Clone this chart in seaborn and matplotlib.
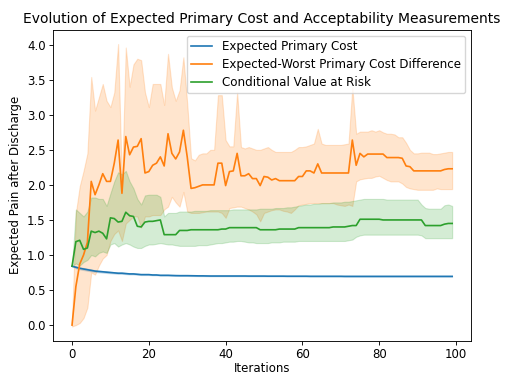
import numpy as np
import pandas as pd
import matplotlib
matplotlib.use("Agg")
import matplotlib.pyplot as plt
import seaborn as sns

iterations = list(range(100))

primary_cost = [
    0.840, 0.825, 0.810, 0.800, 0.790, 0.780, 0.770, 0.765, 0.760, 0.755,
    0.750, 0.745, 0.740, 0.740, 0.735, 0.730, 0.730, 0.725, 0.720, 0.720,
    0.720, 0.715, 0.715, 0.710, 0.710, 0.710, 0.708, 0.706, 0.705, 0.705,
    0.705, 0.704, 0.703, 0.702, 0.702, 0.701, 0.700, 0.700, 0.700, 0.700,
    0.700, 0.700, 0.700, 0.700, 0.700, 0.700, 0.699, 0.699, 0.699, 0.699,
    0.699, 0.698, 0.698, 0.698, 0.698, 0.698, 0.697, 0.697, 0.697, 0.697,
    0.697, 0.697, 0.696, 0.696, 0.696, 0.696, 0.696, 0.696, 0.696, 0.696,
    0.696, 0.695, 0.695, 0.695, 0.695, 0.695, 0.695, 0.695, 0.695, 0.695,
    0.695, 0.695, 0.695, 0.695, 0.695, 0.695, 0.695, 0.695, 0.695, 0.695,
    0.695, 0.695, 0.695, 0.695, 0.695, 0.695, 0.695, 0.695, 0.695, 0.695,
]
primary_cost_lo = [
    0.840, 0.810, 0.795, 0.785, 0.775, 0.765, 0.758, 0.752, 0.748, 0.743,
    0.739, 0.735, 0.731, 0.731, 0.727, 0.722, 0.722, 0.718, 0.714, 0.714,
    0.714, 0.710, 0.710, 0.705, 0.705, 0.705, 0.704, 0.702, 0.701, 0.701,
    0.701, 0.700, 0.699, 0.698, 0.698, 0.697, 0.696, 0.696, 0.696, 0.696,
    0.696, 0.696, 0.696, 0.696, 0.696, 0.696, 0.695, 0.695, 0.695, 0.695,
    0.695, 0.694, 0.694, 0.694, 0.694, 0.694, 0.693, 0.693, 0.693, 0.693,
    0.693, 0.693, 0.692, 0.692, 0.692, 0.692, 0.692, 0.692, 0.692, 0.692,
    0.692, 0.691, 0.691, 0.691, 0.691, 0.691, 0.691, 0.691, 0.691, 0.691,
    0.691, 0.691, 0.691, 0.691, 0.691, 0.691, 0.691, 0.691, 0.691, 0.691,
    0.691, 0.691, 0.691, 0.691, 0.691, 0.691, 0.691, 0.691, 0.691, 0.691,
]
primary_cost_hi = [
    0.840, 0.840, 0.825, 0.815, 0.805, 0.795, 0.782, 0.778, 0.772, 0.767,
    0.761, 0.755, 0.749, 0.749, 0.743, 0.738, 0.738, 0.732, 0.726, 0.726,
    0.726, 0.720, 0.720, 0.715, 0.715, 0.715, 0.712, 0.710, 0.709, 0.709,
    0.709, 0.708, 0.707, 0.706, 0.706, 0.705, 0.704, 0.704, 0.704, 0.704,
    0.704, 0.704, 0.704, 0.704, 0.704, 0.704, 0.703, 0.703, 0.703, 0.703,
    0.703, 0.702, 0.702, 0.702, 0.702, 0.702, 0.701, 0.701, 0.701, 0.701,
    0.701, 0.701, 0.700, 0.700, 0.700, 0.700, 0.700, 0.700, 0.700, 0.700,
    0.700, 0.699, 0.699, 0.699, 0.699, 0.699, 0.699, 0.699, 0.699, 0.699,
    0.699, 0.699, 0.699, 0.699, 0.699, 0.699, 0.699, 0.699, 0.699, 0.699,
    0.699, 0.699, 0.699, 0.699, 0.699, 0.699, 0.699, 0.699, 0.699, 0.699,
]

worst_diff = [
    0.00, 0.55, 0.87, 1.00, 1.18, 2.05, 1.86, 2.00, 2.16, 2.05,
    2.05, 2.31, 2.64, 1.88, 2.69, 2.43, 2.54, 2.55, 2.66, 2.17,
    2.19, 2.28, 2.31, 2.40, 2.27, 2.73, 2.45, 2.37, 2.47, 2.78,
    2.40, 1.95, 1.96, 1.98, 2.00, 2.00, 2.00, 2.00, 2.31, 2.31,
    1.99, 2.19, 2.20, 2.45, 2.13, 2.13, 2.16, 2.09, 2.09, 1.99,
    2.12, 2.11, 2.07, 2.09, 2.06, 2.06, 2.06, 2.06, 2.06, 2.12,
    2.12, 2.20, 2.20, 2.17, 2.30, 2.17, 2.17, 2.17, 2.17, 2.17,
    2.17, 2.17, 2.17, 2.64, 2.28, 2.45, 2.40, 2.44, 2.44, 2.44,
    2.44, 2.44, 2.39, 2.39, 2.39, 2.39, 2.38, 2.27, 2.26, 2.20,
    2.20, 2.20, 2.20, 2.20, 2.20, 2.20, 2.20, 2.22, 2.23, 2.23,
]
worst_diff_lo = [
    -0.02, 0.00, 0.03, 0.10, 0.25, 0.75, 0.72, 0.85, 0.95, 1.00,
    1.20, 1.30, 1.35, 1.20, 1.45, 1.50, 1.55, 1.55, 1.39, 1.55,
    1.55, 1.57, 1.57, 1.57, 1.65, 1.69, 1.83, 1.75, 1.69, 1.90,
    1.62, 1.60, 1.60, 1.60, 1.61, 1.62, 1.62, 1.62, 1.62, 1.60,
    1.53, 1.67, 1.68, 1.69, 1.69, 1.67, 1.65, 1.62, 1.58, 1.48,
    1.60, 1.62, 1.64, 1.65, 1.65, 1.63, 1.62, 1.60, 1.65, 1.71,
    1.72, 1.73, 1.74, 1.74, 1.74, 1.74, 1.74, 1.74, 1.74, 1.72,
    1.71, 1.70, 1.72, 1.70, 2.05, 2.08, 2.09, 2.10, 2.10, 2.12,
    2.13, 2.10, 2.07, 2.05, 2.05, 2.05, 2.02, 1.97, 1.95, 1.94,
    1.93, 1.93, 1.93, 1.93, 1.93, 1.95, 1.94, 1.94, 1.94, 1.94,
]
worst_diff_hi = [
    0.05, 1.60, 1.98, 2.20, 2.45, 3.54, 3.06, 3.25, 3.44, 3.20,
    3.11, 3.32, 4.01, 2.00, 3.96, 3.40, 3.72, 3.80, 3.78, 3.32,
    3.11, 3.44, 3.44, 3.44, 3.14, 3.87, 3.39, 3.20, 3.35, 3.82,
    3.16, 2.38, 2.35, 2.43, 2.45, 2.45, 2.50, 2.50, 3.28, 3.28,
    2.64, 2.55, 2.55, 3.32, 2.54, 2.52, 2.54, 2.52, 2.50, 2.50,
    2.52, 2.54, 2.50, 2.47, 2.47, 2.47, 2.47, 2.47, 2.50, 2.54,
    2.54, 2.55, 2.57, 2.59, 2.80, 2.59, 2.57, 2.57, 2.57, 2.57,
    2.57, 2.58, 2.59, 3.39, 2.73, 2.76, 2.76, 2.76, 2.78, 2.76,
    2.78, 2.75, 2.73, 2.73, 2.72, 2.68, 2.68, 2.60, 2.50, 2.45,
    2.45, 2.46, 2.46, 2.46, 2.44, 2.44, 2.45, 2.46, 2.47, 2.47,
]

cvar = [
    0.84, 1.19, 1.21, 1.08, 1.10, 1.34, 1.32, 1.34, 1.31, 1.23,
    1.53, 1.52, 1.47, 1.48, 1.61, 1.56, 1.55, 1.41, 1.40, 1.47,
    1.48, 1.48, 1.49, 1.50, 1.29, 1.29, 1.29, 1.29, 1.35, 1.35,
    1.35, 1.36, 1.36, 1.36, 1.36, 1.36, 1.36, 1.36, 1.36, 1.37,
    1.37, 1.39, 1.39, 1.39, 1.39, 1.39, 1.39, 1.39, 1.39, 1.36,
    1.36, 1.36, 1.36, 1.36, 1.37, 1.37, 1.37, 1.37, 1.37, 1.39,
    1.39, 1.39, 1.39, 1.39, 1.39, 1.39, 1.39, 1.39, 1.40, 1.40,
    1.40, 1.40, 1.41, 1.42, 1.42, 1.51, 1.51, 1.51, 1.51, 1.51,
    1.51, 1.50, 1.50, 1.50, 1.50, 1.50, 1.50, 1.50, 1.50, 1.50,
    1.50, 1.50, 1.42, 1.42, 1.42, 1.42, 1.42, 1.44, 1.45, 1.45,
]
cvar_lo = [
    0.84, 0.88, 0.85, 0.90, 0.93, 1.00, 0.98, 1.03, 1.05, 1.03,
    1.15, 1.17, 1.12, 1.15, 1.17, 1.15, 1.12, 1.10, 1.10, 1.13,
    1.15, 1.15, 1.16, 1.17, 1.16, 1.15, 1.15, 1.14, 1.13, 1.13,
    1.13, 1.13, 1.13, 1.14, 1.14, 1.14, 1.15, 1.16, 1.17, 1.17,
    1.18, 1.19, 1.19, 1.20, 1.20, 1.19, 1.18, 1.18, 1.17, 1.17,
    1.17, 1.17, 1.18, 1.18, 1.18, 1.19, 1.19, 1.19, 1.19, 1.20,
    1.20, 1.20, 1.20, 1.20, 1.20, 1.20, 1.20, 1.20, 1.20, 1.20,
    1.20, 1.20, 1.21, 1.22, 1.26, 1.28, 1.29, 1.29, 1.29, 1.29,
    1.29, 1.29, 1.29, 1.29, 1.29, 1.29, 1.29, 1.29, 1.29, 1.29,
    1.29, 1.28, 1.24, 1.24, 1.24, 1.24, 1.24, 1.24, 1.24, 1.24,
]
cvar_hi = [
    0.84, 1.65, 1.60, 1.55, 1.62, 1.82, 1.82, 1.80, 1.80, 1.70,
    1.88, 2.05, 2.18, 2.15, 2.20, 2.05, 1.95, 1.80, 1.72, 1.85,
    1.86, 1.86, 1.86, 1.83, 1.55, 1.60, 1.60, 1.60, 1.62, 1.62,
    1.62, 1.62, 1.63, 1.63, 1.63, 1.63, 1.64, 1.64, 1.64, 1.64,
    1.64, 1.64, 1.65, 1.65, 1.65, 1.65, 1.65, 1.65, 1.65, 1.66,
    1.66, 1.66, 1.66, 1.67, 1.67, 1.67, 1.68, 1.68, 1.69, 1.70,
    1.71, 1.72, 1.72, 1.73, 1.73, 1.74, 1.74, 1.74, 1.75, 1.75,
    1.75, 1.76, 1.76, 1.77, 1.78, 1.79, 1.80, 1.80, 1.80, 1.80,
    1.80, 1.80, 1.79, 1.79, 1.79, 1.79, 1.79, 1.79, 1.79, 1.79,
    1.79, 1.72, 1.67, 1.66, 1.66, 1.66, 1.66, 1.71, 1.72, 1.70,
]

labels = ["Expected Primary Cost",
          "Expected-Worst Primary Cost Difference",
          "Conditional Value at Risk"]
colors = ["#1f77b4", "#ff7f0e", "#2ca02c"]

series = [
    (primary_cost, primary_cost_lo, primary_cost_hi),
    (worst_diff, worst_diff_lo, worst_diff_hi),
    (cvar, cvar_lo, cvar_hi),
]

fs = 8.5
fig = plt.figure(figsize=(5.05, 3.75), dpi=100)
ax = fig.add_axes([0.105, 0.092, 0.828, 0.828])

for (mean, lo, hi), lab, col in zip(series, labels, colors):
    df = pd.DataFrame({"Iterations": iterations, "value": mean})
    sns.lineplot(data=df, x="Iterations", y="value", ax=ax, color=col,
                 label=lab, linewidth=1.2)
    ax.fill_between(iterations, lo, hi, color=col, alpha=0.2, linewidth=0.8)

ax.set_title("Evolution of Expected Primary Cost and Acceptability Measurements",
             fontsize=10.0, pad=5)
ax.set_xlabel("Iterations", fontsize=fs, labelpad=1.0)
ax.set_ylabel("Expected Pain after Discharge", fontsize=fs, labelpad=3.5)
ax.tick_params(labelsize=fs, length=2.8, width=0.64, pad=2.5)
for s in ax.spines.values():
    s.set_linewidth(0.64)
ax.set_xticks([0, 20, 40, 60, 80, 100])
ax.set_yticks([0.0, 0.5, 1.0, 1.5, 2.0, 2.5, 3.0, 3.5, 4.0])
ax.set_xlim(-4.95, 103.95)
ax.set_ylim(-0.22, 4.21)
ax.legend(loc="upper right", fontsize=8.6, framealpha=0.8,
          handlelength=1.8, borderpad=0.35, labelspacing=0.4)

fig.savefig("out.png", dpi=100)
